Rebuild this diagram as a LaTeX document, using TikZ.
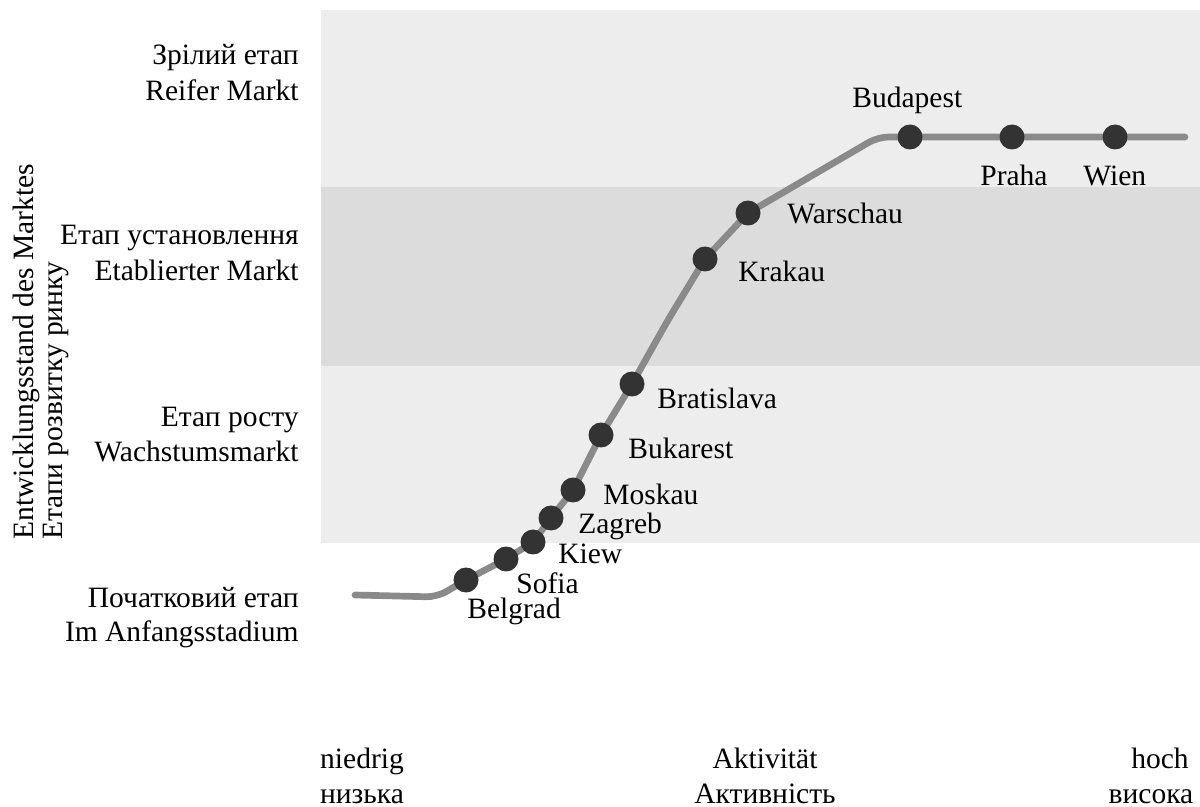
\documentclass[tikz,border=0pt]{standalone}
\usepackage{fontspec}
\setmainfont{Liberation Serif}
\begin{document}
\begin{tikzpicture}[x=0.02cm,y=-0.02cm,
  lbl/.style={font=\fontsize{16.8}{21}\selectfont, inner sep=0pt},
  stage/.style={lbl, anchor=base east},
  city/.style={lbl, anchor=base west},
  axl/.style={lbl, anchor=base},
  dotnode/.style={circle, fill=dotc, draw=none, minimum size=0.5cm, inner sep=0pt},
  curveline/.style={draw=curvec, line width=3.8pt, line cap=round, line join=round, rounded corners=6pt}]
\definecolor{bandlight}{HTML}{EDEDED}
\definecolor{banddark}{HTML}{DCDCDC}
\definecolor{curvec}{HTML}{8A8A8A}
\definecolor{dotc}{HTML}{333333}
\useasboundingbox (0,0) rectangle (1200,807);
% bands
\fill[bandlight] (321,10) rectangle (1200,187);
\fill[banddark] (321,187) rectangle (1200,366);
\fill[bandlight] (321,366) rectangle (1200,543);
% curve points
\coordinate (s0) at (355,595);
\coordinate (s1) at (437,597);
\coordinate (belgrad) at (466,580);
\coordinate (sofia) at (506,559);
\coordinate (kiew) at (533,542);
\coordinate (zagreb) at (551,518);
\coordinate (moskau) at (573,490);
\coordinate (bukarest) at (601,435);
\coordinate (bratislava) at (632,384);
\coordinate (mid) at (668,320);
\coordinate (krakau) at (705,259);
\coordinate (warschau) at (748,213);
\coordinate (corner) at (878,137);
\coordinate (budapest) at (910,137);
\coordinate (praha) at (1012,137);
\coordinate (wien) at (1115,137);
\coordinate (e0) at (1185,137);
\draw[curveline] (s0) -- (s1) -- (belgrad) -- (sofia) -- (kiew) -- (zagreb) -- (moskau) -- (bukarest) -- (bratislava) -- (mid) -- (krakau) -- (warschau) -- (corner) -- (budapest) -- (praha) -- (wien) -- (e0);
% dots
\foreach \c in {belgrad,sofia,kiew,zagreb,moskau,bukarest,bratislava,krakau,warschau,budapest,praha,wien}
  \node[dotnode] (d\c) at (\c) {};
% city labels (left edge, baseline)
\node[city] (tbelgrad) at (467,618) {Belgrad};
\node[city] (tsofia) at (516,593) {Sofia};
\node[city] (tkiew) at (558,563) {Kiew};
\node[city] (tzagreb) at (578,533) {Zagreb};
\node[city] (tmoskau) at (603,504) {Moskau};
\node[city] (tbukarest) at (628,459) {Bukarest};
\node[city] (tbratislava) at (657,409) {Bratislava};
\node[city] (tkrakau) at (738,282) {Krakau};
\node[city] (twarschau) at (787,224) {Warschau};
\node[city] (tbudapest) at (852,108) {Budapest};
\node[city] (tpraha) at (980,186) {Praha};
\node[city] (twien) at (1083,186) {Wien};
% stage labels
\node[stage] (st1a) at (299,65) {Зрілий етап};
\node[stage] (st1b) at (299,101) {Reifer Markt};
\node[stage] (st2a) at (299,245) {Етап установлення};
\node[stage] (st2b) at (299,281) {Etablierter Markt};
\node[stage] (st3a) at (299,426) {Етап росту};
\node[stage] (st3b) at (299,461) {Wachstumsmarkt};
\node[stage] (st4a) at (299,607) {Початковий етап};
\node[stage] (st4b) at (299,641) {Im Anfangsstadium};
% y axis title
\node[lbl, rotate=90, anchor=base west] (yaxisde) at (33,540) {Entwicklungsstand des Marktes};
\node[lbl, rotate=90, anchor=base west] (yaxisua) at (62,540) {Етапи розвитку ринку};
% x axis labels
\node[axl] (xlow) at (362,768) {niedrig};
\node[axl] (xlowua) at (362,803) {низька};
\node[axl] (xmid) at (765,768) {Aktivität};
\node[axl] (xmidua) at (765,803) {Активність};
\node[axl] (xhigh) at (1160,768) {hoch};
\node[axl] (xhighua) at (1151,803) {висока};
\end{tikzpicture}
\end{document}
